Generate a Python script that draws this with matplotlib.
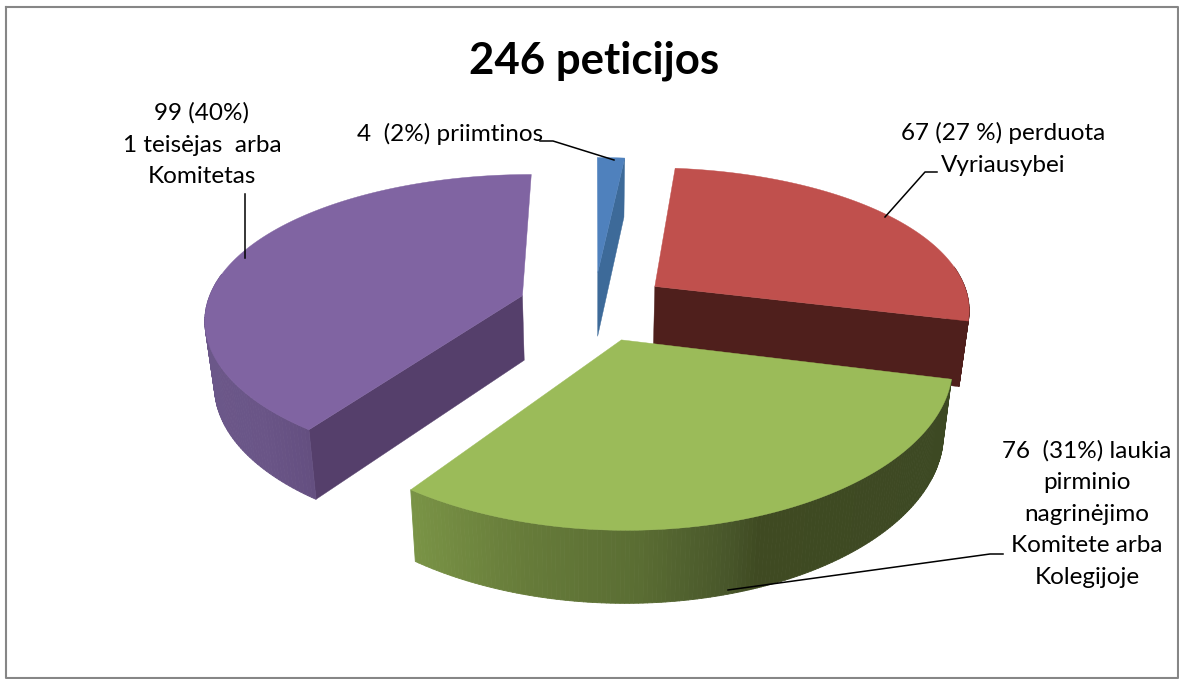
import matplotlib
matplotlib.use('Agg')
import matplotlib.pyplot as plt
import numpy as np
from matplotlib.collections import PolyCollection
from matplotlib.colors import to_rgb

plt.rcParams['font.family'] = ['Lato', 'Open Sans', 'DejaVu Sans']

title = "246 peticijos"
values = [4, 67, 76, 99]
top_colors = ['#4F81BD', '#C0504D', '#9BBB59', '#8064A2']
wall_colors = ['#3D6A99', '#4F1F1C', '#3F4A22', '#553F6B']
labels = ["4  (2%) priimtinos",
          "67 (27 %) perduota\nVyriausybei",
          "76  (31%) laukia\npirminio\nnagrinėjimo\nKomitete arba\nKolegijoje",
          "99 (40%)\n1 teisėjas  arba\nKomitetas"]

# projection of the tilted pie, everything in image pixels
cx, cy = 594, 306
rx, ry = 316, 145
persp = 0.17
explode = 0.24
depth = 65
shrink = 0.975


def project(x, y):
    s = 1 / (1 + persp * y)
    return cx + rx * x * s ** 0.85, cy - ry * y * s, s


def to_bottom(px, py, s):
    return cx + (px - cx) * shrink, py + depth * s ** 0.5


def side_color(name, px):
    # outer rim shading changes along the x direction
    if name == 2:
        stops = [408, 520, 640, 730, 760, 950]
        cols = ['#7A9446', '#677C3A', '#5A6D33', '#48562A', '#3F4A22', '#3D4923']
    elif name == 3:
        stops = [205, 260, 310]
        cols = ['#6B5789', '#6A5587', '#644F80']
    else:
        return to_rgb(wall_colors[name])
    rgb = np.array([to_rgb(c) for c in cols])
    return tuple(np.interp(px, stops, rgb[:, i]) for i in range(3))


fig = plt.figure(figsize=(11.79, 6.79), dpi=100)
ax = fig.add_axes([0, 0, 1, 1])
ax.set_xlim(0, 1179)
ax.set_ylim(679, 0)
ax.axis('off')

edges = np.cumsum([0] + values) / sum(values) * 2 * np.pi
slices = {}
for i in range(len(values)):
    a0, a1 = edges[i], edges[i + 1]
    mid = (a0 + a1) / 2
    ex, ey = explode * np.sin(mid), explode * np.cos(mid)
    th = np.linspace(a0, a1, 160)
    ax_, ay_, s_ = project(ex + np.sin(th), ey + np.cos(th))
    apex = project(ex, ey)
    slices[i] = (th, ax_, ay_, s_, apex)

# which cut walls can be seen: 0 start of slice, -1 end of slice
visible_walls = {0: [-1], 1: [-1], 2: [], 3: [0]}

for i in [1, 3, 0, 2]:
    th, px, py, s, apex = slices[i]
    bx, by = to_bottom(px, py, s)
    abx, aby = to_bottom(*apex)

    # cut walls
    for k in visible_walls[i]:
        ax.fill([apex[0], px[k], bx[k], abx], [apex[1], py[k], by[k], aby],
                color=wall_colors[i], lw=0.3)

    # outer rim, the part facing away is hidden behind the top
    quads, cols = [], []
    for j in range(len(px) - 1):
        if np.cos(th[j]) > 0.15:
            continue
        quads.append([(px[j], py[j]), (px[j + 1], py[j + 1]), (bx[j + 1], by[j + 1]), (bx[j], by[j])])
        cols.append(side_color(i, (px[j] + px[j + 1]) / 2))
    if quads:
        ax.add_collection(PolyCollection(quads, facecolors=cols, edgecolors=cols, linewidths=0.6))

    # top
    ax.fill(np.r_[apex[0], px], np.r_[apex[1], py], color=top_colors[i], lw=0.3)

# leader lines
ax.plot([540, 553, 614], [141, 141, 160], color='black', lw=1.1)
ax.plot([885, 925, 937], [217, 172, 172], color='black', lw=1.1)
ax.plot([728, 990, 1003], [590, 554, 554], color='black', lw=1.1)
ax.plot([245, 245], [258, 194], color='black', lw=1.1)

ax.text(594, 61, title, ha='center', va='center', fontsize=31.5, fontweight='bold', color='black')
for lab, (x, y) in zip(labels, [(450, 134), (1003, 149), (1087, 514), (202, 145)]):
    ax.text(x, y, lab, ha='center', va='center', fontsize=17.5, linespacing=1.63, color='black')

# outer chart frame
ax.plot([6, 1178, 1178, 6, 6], [7, 7, 678, 678, 7], color='#868686', lw=1.5, clip_on=False)

fig.savefig('out.png', dpi=100, facecolor='white')
